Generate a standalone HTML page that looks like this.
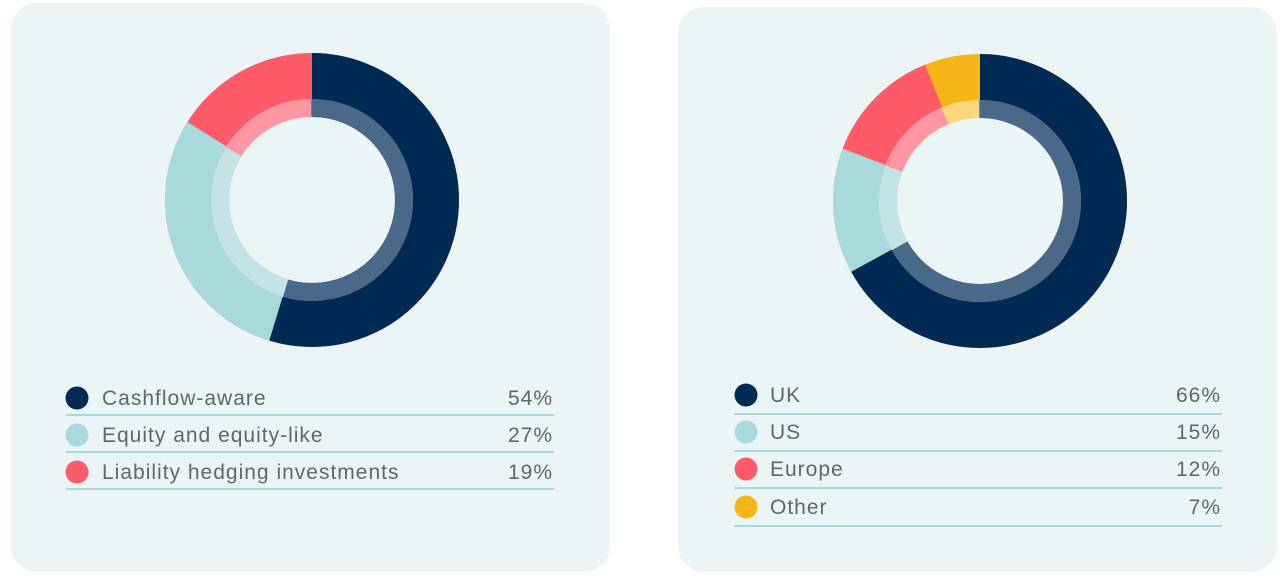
<!DOCTYPE html>
<html><head><meta charset="utf-8"><style>
body{margin:0;background:#fff;width:1280px;height:575px;overflow:hidden}
svg text{font-family:"Liberation Sans",sans-serif;font-size:21px;fill:#5f676c;letter-spacing:1px}
</style></head><body>
<svg width="1280" height="575" viewBox="0 0 1280 575">
<rect x="11" y="3" width="599" height="569" rx="26" fill="#ebf5f6"/>
<rect x="678" y="7" width="599" height="565" rx="26" fill="#ebf5f6"/>

<g transform="translate(312,200) rotate(-90)" fill="none">
<circle r="124" stroke="#ff5a6a" stroke-width="46"/>
<circle r="92" stroke="#ff97a2" stroke-width="18"/>
<circle r="124" stroke="#002a54" stroke-width="46" pathLength="100" stroke-dasharray="54.7 45.3" stroke-dashoffset="0"/>
<circle r="124" stroke="#a8dadc" stroke-width="46" pathLength="100" stroke-dasharray="29.2 70.8" stroke-dashoffset="-54.7"/>
<circle r="92" stroke="#4a6888" stroke-width="18" pathLength="100" stroke-dasharray="54.7 45.3" stroke-dashoffset="0"/>
<circle r="92" stroke="#c2e4e7" stroke-width="18" pathLength="100" stroke-dasharray="29.2 70.8" stroke-dashoffset="-54.7"/>
</g>

<g transform="translate(980,201) rotate(-90)" fill="none">
<circle r="124" stroke="#f5b718" stroke-width="46"/>
<circle r="92" stroke="#fdd57a" stroke-width="18"/>
<circle r="124" stroke="#002a54" stroke-width="46" pathLength="100" stroke-dasharray="67 33" stroke-dashoffset="0"/>
<circle r="124" stroke="#a8dadc" stroke-width="46" pathLength="100" stroke-dasharray="13.8 86.2" stroke-dashoffset="-67"/>
<circle r="124" stroke="#ff5a6a" stroke-width="46" pathLength="100" stroke-dasharray="13.1 86.9" stroke-dashoffset="-80.8"/>
<circle r="92" stroke="#4a6888" stroke-width="18" pathLength="100" stroke-dasharray="67 33" stroke-dashoffset="0"/>
<circle r="92" stroke="#c2e4e7" stroke-width="18" pathLength="100" stroke-dasharray="13.8 86.2" stroke-dashoffset="-67"/>
<circle r="92" stroke="#ff97a2" stroke-width="18" pathLength="100" stroke-dasharray="13.1 86.9" stroke-dashoffset="-80.8"/>
</g>

<g stroke="#a8dadc" stroke-width="2">
<line x1="66" y1="415" x2="554" y2="415"/><line x1="66" y1="452" x2="554" y2="452"/><line x1="66" y1="489" x2="554" y2="489"/>
<line x1="734" y1="414" x2="1222" y2="414"/><line x1="734" y1="451" x2="1222" y2="451"/><line x1="734" y1="488" x2="1222" y2="488"/><line x1="734" y1="526" x2="1222" y2="526"/>
</g>

<circle cx="77" cy="398" r="11.5" fill="#002a54"/>
<circle cx="77" cy="435" r="11.5" fill="#a8dadc"/>
<circle cx="77" cy="472" r="11.5" fill="#ff5a6a"/>
<text x="102" y="405">Cashflow-aware</text>
<text x="102" y="442">Equity and equity-like</text>
<text x="102" y="479">Liability hedging investments</text>
<text x="553" y="405" text-anchor="end">54%</text>
<text x="553" y="442" text-anchor="end">27%</text>
<text x="553" y="479" text-anchor="end">19%</text>

<circle cx="746" cy="395" r="11.5" fill="#002a54"/>
<circle cx="746" cy="432" r="11.5" fill="#a8dadc"/>
<circle cx="746" cy="469" r="11.5" fill="#ff5a6a"/>
<circle cx="746" cy="507" r="11.5" fill="#f5b718"/>
<text x="770" y="402">UK</text>
<text x="770" y="439">US</text>
<text x="770" y="476">Europe</text>
<text x="770" y="514">Other</text>
<text x="1221" y="402" text-anchor="end">66%</text>
<text x="1221" y="439" text-anchor="end">15%</text>
<text x="1221" y="476" text-anchor="end">12%</text>
<text x="1221" y="514" text-anchor="end">7%</text>
</svg>
</body></html>
